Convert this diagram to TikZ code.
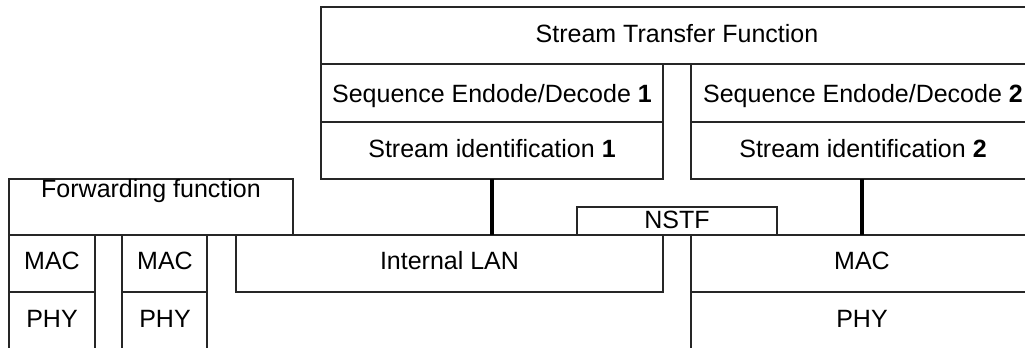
\documentclass[tikz,border=0pt]{standalone}
\usepackage{fontspec}
\setmainfont{Liberation Sans}
\begin{document}
\begin{tikzpicture}[x=0.5pt,y=-0.5pt,
  every node/.style={font=\fontsize{12.5}{15}\selectfont},
  box/.style={draw=black!85,line width=0.6pt,inner sep=0pt,outer sep=0pt,anchor=north west},
  lbl/.style={anchor=base,inner sep=0pt,text=black},
  link/.style={line width=2pt,draw=black},
  bus/.style={line width=0.6pt,draw=black!85}]
\useasboundingbox (0,0) rectangle (1025,348);
\clip (0,0) rectangle (1025,348);

% upper stack
\node[box,minimum width=357pt,minimum height=28.5pt] (stf)  at (321,7)   {};
\node[box,minimum width=171pt,minimum height=29pt]   (seq1) at (321,64)  {};
\node[box,minimum width=171pt,minimum height=28.5pt] (si1)  at (321,122) {};
\node[box,minimum width=172pt,minimum height=29pt]   (seq2) at (691,64)  {};
\node[box,minimum width=172pt,minimum height=28.5pt] (si2)  at (691,122) {};

% bridge side
\node[box,minimum width=142pt,minimum height=28pt]   (fwd)  at (9,179)   {};
\node[box,minimum width=43pt,minimum height=28.5pt]  (mac1) at (9,235)   {};
\node[box,minimum width=43pt,minimum height=39pt]    (phy1) at (9,292)   {};
\node[box,minimum width=42.5pt,minimum height=28.5pt](mac2) at (122,235) {};
\node[box,minimum width=42.5pt,minimum height=39pt]  (phy2) at (122,292) {};
\node[box,minimum width=213.5pt,minimum height=28.5pt](lan) at (236,235) {};
\node[box,minimum width=100pt,minimum height=14pt]   (nstf) at (577,207) {};
\node[box,minimum width=172pt,minimum height=28.5pt] (mac3) at (691,235) {};
\node[box,minimum width=172pt,minimum height=39pt]   (phy3) at (691,292) {};

% common bus line
\coordinate (busL) at (9,235);
\coordinate (busR) at (1035,235);
\draw[bus] (busL) -- (busR);

% links from stream identification down to the bus
\coordinate (t1) at (si1.south |- busL);
\coordinate (t2) at ([xshift=-0.5pt]si2.south |- busL);
\draw[link] (si1.south) -- (t1);
\draw[link] ([xshift=-0.5pt]si2.south) -- (t2);

% labels
\node[lbl] (tstf)  at (677,42)  {Stream Transfer Function};
\node[lbl] (tseq1) at (492,103) {Sequence Endode/Decode \textbf{1}};
\node[lbl] (tsi1)  at (492,157) {Stream identification \textbf{1}};
\node[lbl] (tseq2) at (863,103) {Sequence Endode/Decode \textbf{2}};
\node[lbl] (tsi2)  at (863,157) {Stream identification \textbf{2}};
\node[lbl] (tfwd)  at (151,197) {Forwarding function};
\node[lbl] (tmac1) at (52,269)  {MAC};
\node[lbl] (tphy1) at (52,327)  {PHY};
\node[lbl] (tmac2) at (165,269) {MAC};
\node[lbl] (tphy2) at (165,327) {PHY};
\node[lbl] (tlan)  at (449.5,269) {Internal LAN};
\node[lbl] (tnstf) at (677,228) {NSTF};
\node[lbl] (tmac3) at (862,269) {MAC};
\node[lbl] (tphy3) at (862,327) {PHY};
\end{tikzpicture}
\end{document}
